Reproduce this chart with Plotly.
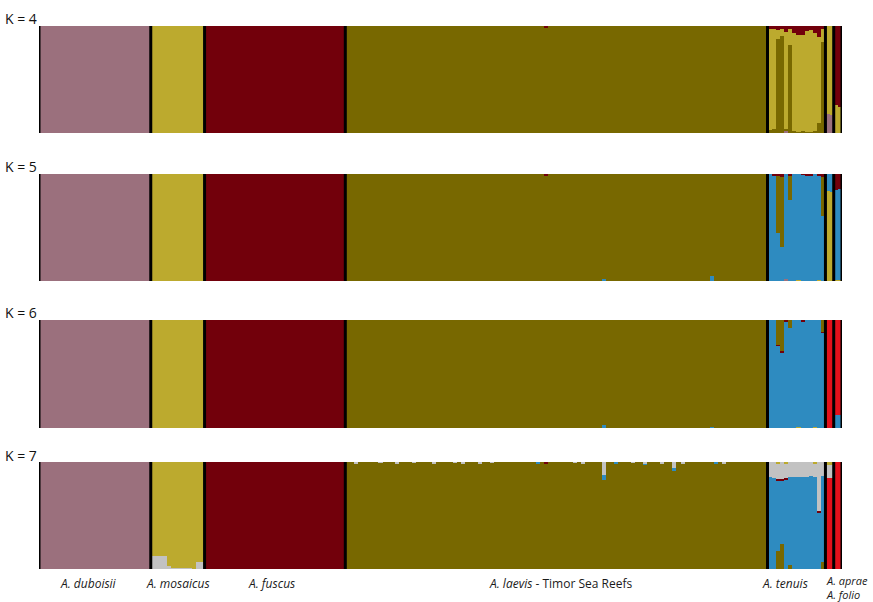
import numpy as np
import plotly.graph_objects as go
from plotly.subplots import make_subplots

# ---------------- data ----------------
species = ["A. duboisii", "A. mosaicus", "A. fuscus", "A. laevis", "A. tenuis", "A. aprae", "A. folio"]
group_sizes = [27, 13, 34, 102, 14, 2, 2]
k_values = [4, 5, 6, 7]

colors = {
    "mauve": "#9b707d", "mustard": "#bcaa2e", "darkred": "#72000b", "olive": "#786800",
    "blue": "#2e8bc0", "red": "#e3101b", "gray": "#c2c2c2",
}

# cluster stacking order (bottom -> top) per K
stack_k4 = ["mauve", "olive", "mustard", "darkred"]
stack_k5 = ["mauve", "mustard", "blue", "olive", "darkred"]
stack_k6 = ["mauve", "mustard", "blue", "darkred", "olive", "red"]
stack_k7 = ["red", "mauve", "olive", "blue", "darkred", "gray", "mustard"]

# main cluster of each species per K
dominant_k4 = ["mauve", "mustard", "darkred", "olive", "mustard", "mustard", "darkred"]
dominant_k5 = ["mauve", "mustard", "darkred", "olive", "blue", "mustard", "blue"]
dominant_k6 = ["mauve", "mustard", "darkred", "olive", "blue", "red", "red"]
dominant_k7 = ["mauve", "mustard", "darkred", "olive", "blue", "red", "red"]

# minor membership (one value per individual, or {individual: value})
k4_tenuis_olive = [0.03, 0.04, 0.88, 0.91, 0.02, 0.82, 0.02, 0.01, 0.02, 0.01, 0.01, 0.02, 0.09, 0.85]
k4_tenuis_darkred = [0.03, 0.03, 0.04, 0.03, 0.06, 0.03, 0.07, 0.08, 0.08, 0.05, 0.04, 0.07, 0.10, 0.03]
k4_tenuis_mauve = [0, 0, 0, 0, 0.015, 0, 0, 0, 0, 0, 0, 0, 0, 0]
k4_aprae_mauve = [0.18, 0.17]
k4_folio_mustard = [0.26, 0.24]
k4_laevis_darkred = {48: 0.015}

k5_tenuis_olive = [0, 0, 0.54, 0.65, 0, 0.23, 0, 0, 0, 0, 0, 0, 0, 0.36]
k5_tenuis_darkred = [0, 0.01, 0.01, 0.03, 0, 0.01, 0, 0, 0.005, 0.01, 0.01, 0, 0.01, 0.03]
k5_tenuis_mauve = [0, 0, 0, 0, 0.02, 0, 0, 0, 0, 0, 0, 0, 0, 0]
k5_tenuis_mustard = [0, 0, 0, 0, 0, 0, 0, 0.01, 0, 0, 0, 0, 0.01, 0]
k5_aprae_blue = [0.16, 0.17]
k5_folio_darkred = [0.15, 0.14]
k5_folio_mustard = [0.01, 0.01]
k5_laevis_blue = {62: 0.015, 88: 0.045}
k5_laevis_darkred = {48: 0.012}

k6_tenuis_olive = [0, 0, 0.23, 0.29, 0, 0.07, 0, 0, 0, 0, 0, 0, 0, 0.11]
k6_tenuis_darkred = [0, 0, 0.005, 0.012, 0.01, 0, 0, 0, 0.01, 0, 0, 0, 0, 0.01]
k6_tenuis_mustard = [0, 0, 0, 0, 0, 0, 0, 0.01, 0, 0, 0, 0.01, 0, 0]
k6_folio_blue = [0.12, 0.12]
k6_laevis_blue = {62: 0.025, 88: 0.01}

k7_mosaicus_gray = [0.12, 0.12, 0.12, 0.12, 0.03, 0.01, 0.005, 0.01, 0.005, 0.005, 0.003, 0.07, 0.07]
k7_tenuis_gray = [0.14, 0.15, 0.15, 0.16, 0.14, 0.14, 0.14, 0.14, 0.14, 0.14, 0.13, 0.13, 0.46, 0.13]
k7_tenuis_olive = [0, 0, 0.17, 0.23, 0, 0.04, 0, 0, 0, 0, 0, 0, 0, 0.07]
k7_tenuis_darkred = [0, 0, 0.012, 0.012, 0.01, 0, 0, 0, 0, 0, 0, 0, 0.012, 0]
k7_tenuis_mustard = [0, 0, 0.012, 0, 0.012, 0, 0, 0, 0, 0, 0, 0.01, 0, 0]
k7_aprae_gray = [0.125, 0.12]
k7_aprae_mustard = [0.025, 0.025]
k7_laevis_gray = {2: 0.01, 8: 0.008, 12: 0.01, 16: 0.008, 21: 0.01, 26: 0.008, 28: 0.01,
                  32: 0.01, 35: 0.008, 55: 0.008, 57: 0.01, 62: 0.12, 69: 0.008,
                  72: 0.01, 76: 0.01, 79: 0.055, 81: 0.01, 91: 0.01}
k7_laevis_blue = {46: 0.012, 62: 0.05, 65: 0.012, 72: 0.01, 79: 0.025, 89: 0.012}
k7_laevis_darkred = {48: 0.012}

stacks = {4: stack_k4, 5: stack_k5, 6: stack_k6, 7: stack_k7}
dominants = {4: dominant_k4, 5: dominant_k5, 6: dominant_k6, 7: dominant_k7}
minors = {
    4: [("A. tenuis", "olive", k4_tenuis_olive), ("A. tenuis", "darkred", k4_tenuis_darkred),
        ("A. tenuis", "mauve", k4_tenuis_mauve), ("A. aprae", "mauve", k4_aprae_mauve),
        ("A. folio", "mustard", k4_folio_mustard), ("A. laevis", "darkred", k4_laevis_darkred)],
    5: [("A. tenuis", "olive", k5_tenuis_olive), ("A. tenuis", "darkred", k5_tenuis_darkred),
        ("A. tenuis", "mauve", k5_tenuis_mauve), ("A. tenuis", "mustard", k5_tenuis_mustard),
        ("A. aprae", "blue", k5_aprae_blue), ("A. folio", "darkred", k5_folio_darkred),
        ("A. folio", "mustard", k5_folio_mustard), ("A. laevis", "blue", k5_laevis_blue),
        ("A. laevis", "darkred", k5_laevis_darkred)],
    6: [("A. tenuis", "olive", k6_tenuis_olive), ("A. tenuis", "darkred", k6_tenuis_darkred),
        ("A. tenuis", "mustard", k6_tenuis_mustard), ("A. folio", "blue", k6_folio_blue),
        ("A. laevis", "blue", k6_laevis_blue)],
    7: [("A. mosaicus", "gray", k7_mosaicus_gray), ("A. tenuis", "gray", k7_tenuis_gray),
        ("A. tenuis", "olive", k7_tenuis_olive), ("A. tenuis", "darkred", k7_tenuis_darkred),
        ("A. tenuis", "mustard", k7_tenuis_mustard), ("A. aprae", "gray", k7_aprae_gray),
        ("A. aprae", "mustard", k7_aprae_mustard), ("A. laevis", "gray", k7_laevis_gray),
        ("A. laevis", "blue", k7_laevis_blue), ("A. laevis", "darkred", k7_laevis_darkred)],
}

# ---------------- build membership matrices ----------------
N = int(sum(group_sizes))
starts = np.concatenate([[0], np.cumsum(group_sizes)[:-1]]).astype(int)


def build(k):
    q = {c: np.zeros(N) for c in stacks[k]}
    for gi, n in enumerate(group_sizes):
        q[dominants[k][gi]][starts[gi]:starts[gi] + n] = 1.0
    for sp, cl, vals in minors[k]:
        gi = species.index(sp)
        dom = dominants[k][gi]
        items = vals.items() if isinstance(vals, dict) else enumerate(vals)
        for i, v in items:
            q[cl][starts[gi] + i] += v
            q[dom][starts[gi] + i] -= v
    return q


# ---------------- figure ----------------
W, H = 873, 602
ml, mr, mt, mb = 39, 31, 26, 33
pw, ph = W - ml - mr, H - mt - mb
panel_px = [(26, 133), (174, 281), (320, 428), (462, 569)]


def py(p):
    return (H - mb - p) / ph


def px(p):
    return (p - ml) / pw


fig = make_subplots(rows=4, cols=1)
x = np.arange(N)
for r, k in enumerate(k_values, start=1):
    q = build(k)
    for c in stacks[k]:
        fig.add_trace(go.Bar(x=x, y=q[c], marker=dict(color=colors[c], line=dict(width=0)),
                             showlegend=False, hoverinfo="skip"), row=r, col=1)

bounds = [-0.5] + list(np.cumsum(group_sizes) - 0.5)
shapes = []
for r in range(1, 5):
    sx = "x" if r == 1 else f"x{r}"
    sy = "y domain" if r == 1 else f"y{r} domain"
    for b in bounds:
        shapes.append(dict(type="line", xref=sx, yref=sy, x0=b, x1=b, y0=0, y1=1,
                           line=dict(color="black", width=3)))

layout_axes = {}
for r, (top, bot) in enumerate(panel_px, start=1):
    ya = "yaxis" if r == 1 else f"yaxis{r}"
    xa = "xaxis" if r == 1 else f"xaxis{r}"
    layout_axes[ya] = dict(domain=[py(bot), py(top)], range=[0, 1], visible=False, fixedrange=True)
    layout_axes[xa] = dict(range=[-0.5, N - 0.5], visible=False, fixedrange=True)

font_family = "Open Sans"
annotations = []
k_label_centers = [18, 166, 312, 455]
for k, yc in zip(k_values, k_label_centers):
    annotations.append(dict(text=f"K = {k}", xref="paper", yref="paper", x=px(39), y=py(yc),
                            xanchor="right", yanchor="middle", showarrow=False,
                            font=dict(family=font_family, size=14, color="#111111")))

label_texts = ["<i>A. duboisii</i>", "<i>A. mosaicus</i>", "<i>A. fuscus</i>",
               "<i>A. laevis</i> - Timor Sea Reefs", "<i>A. tenuis</i>"]
label_centers = [88, 178, 271, 560, 785]
for t, xc in zip(label_texts, label_centers):
    annotations.append(dict(text=t, xref="paper", yref="paper", x=px(xc), y=py(583),
                            xanchor="center", yanchor="middle", showarrow=False,
                            font=dict(family=font_family, size=12, color="#1a1a1a")))
annotations.append(dict(text="<i>A. aprae</i>", xref="paper", yref="paper", x=px(825), y=py(580),
                        xanchor="left", yanchor="middle", showarrow=False, borderpad=0,
                        font=dict(family=font_family, size=11, color="#1a1a1a")))
annotations.append(dict(text="<i>A. folio</i>", xref="paper", yref="paper", x=px(825), y=py(594.5),
                        xanchor="left", yanchor="middle", showarrow=False, borderpad=0,
                        font=dict(family=font_family, size=11, color="#1a1a1a")))

fig.update_layout(
    width=W, height=H, margin=dict(l=ml, r=mr, t=mt, b=mb),
    barmode="stack", bargap=0, plot_bgcolor="white", paper_bgcolor="white",
    shapes=shapes, annotations=annotations, **layout_axes,
)
fig.write_html("out.html", config={"displayModeBar": False})
